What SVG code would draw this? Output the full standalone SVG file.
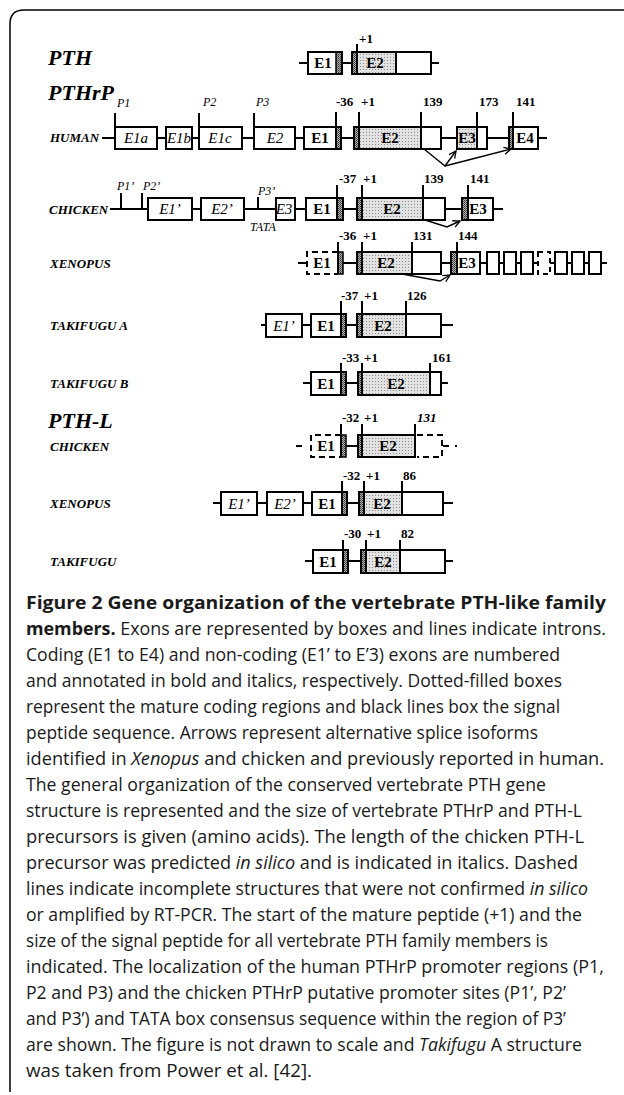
<svg xmlns="http://www.w3.org/2000/svg" width="624" height="1095" viewBox="0 0 624 1095">
<defs>
<pattern id="dots" width="3" height="3" patternUnits="userSpaceOnUse"><rect width="3" height="3" fill="#e2e2e2"/><rect width="1" height="1" fill="#8c8c8c"/></pattern>
<pattern id="hatch" width="2" height="2" patternUnits="userSpaceOnUse"><rect width="2" height="2" fill="#b0b0b0"/><rect width="1" height="1" fill="#333"/><rect x="1" y="1" width="1" height="1" fill="#555"/></pattern>
<marker id="arr" markerWidth="10" markerHeight="10" refX="8" refY="4" orient="auto" markerUnits="userSpaceOnUse"><path d="M1,0.5 L8,4 L1,7.5" fill="none" stroke="#000" stroke-width="1.3"/></marker>
</defs>
<style>
.ln{stroke:#000;stroke-width:2;fill:none}
.bx{fill:#fff;stroke:#000;stroke-width:2}
.nf{fill:none;stroke:#000;stroke-width:2}
.dsh{fill:none;stroke:#000;stroke-width:2;stroke-dasharray:6 4}
.dt{fill:url(#dots)}
.ht{fill:url(#hatch);stroke:#000;stroke-width:1.5}
.tk{stroke:#000;stroke-width:2}
.ar{stroke:#000;stroke-width:1.4;fill:none;marker-end:url(#arr)}
text{font-family:"Liberation Serif","Times New Roman",serif;fill:#000}
.ttl{font-size:22px;font-weight:bold;font-style:italic}
.sp{font-size:13px;font-weight:bold;font-style:italic}
.eb{font-size:15px;font-weight:bold;text-anchor:middle}
.ei{font-size:15px;font-style:italic;text-anchor:middle}
.nm{font-size:13px;font-weight:bold}
.pr{font-size:12px;font-style:italic}
.cap{font-family:"Open Sans","Noto Sans",sans-serif;font-size:17.5px;fill:#1a1a1a}
.b{font-weight:bold}
.i{font-style:italic}
</style>

<path d="M10,1092 V24 Q10,10 24,10 H624" fill="none" stroke="#000" stroke-width="1.5"/>

<g id="connectors">
<line class="ln" x1="299" y1="63" x2="439" y2="63"/>
<line class="ln" x1="102" y1="138" x2="547" y2="138"/>
<line class="ln" x1="110" y1="209" x2="503" y2="209"/>
<line class="ln" x1="298" y1="263" x2="607" y2="263"/>
<line class="ln" x1="261" y1="325" x2="453" y2="325"/>
<line class="ln" x1="303" y1="383" x2="448" y2="383"/>
<line class="ln" x1="346" y1="446" x2="358" y2="446"/>
<line class="dsh" x1="296" y1="446" x2="306" y2="446"/>
<line class="ln" x1="443" y1="446" x2="449" y2="446"/>
<rect x="455" y="445" width="2" height="2" fill="#000"/>
<line class="ln" x1="213" y1="503" x2="453" y2="503"/>
<line class="ln" x1="305" y1="561" x2="453" y2="561"/>
<polyline class="ar" points="424,149 445,166 456,151"/>
<polyline class="ar" points="445,166 511,149"/>
<polyline class="ar" points="425,220 447,227 460,221"/>
<polyline class="ar" points="402,274 440,281 450,275"/>
</g>

<g id="titles">
<text class="ttl" x="48" y="65">PTH</text>
<text class="ttl" x="48" y="100">PTHrP</text>
<text class="ttl" x="48" y="428">PTH-L</text>
</g>

<g id="pth">
<rect class="bx" x="308" y="52" width="34" height="22"/>
<rect class="ht" x="336" y="52" width="6" height="22"/>
<rect class="nf" x="308" y="52" width="34" height="22"/>
<text class="eb" x="323" y="68">E1</text>
<rect class="bx" x="352" y="52" width="79" height="22"/>
<rect class="ht" x="352" y="52" width="5" height="22"/>
<rect class="dt" x="357" y="53" width="39" height="20"/>
<line class="tk" x1="396" y1="52" x2="396" y2="74"/>
<rect class="nf" x="352" y="52" width="79" height="22"/>
<text class="eb" x="375" y="68">E2</text>
<line class="tk" x1="357" y1="44" x2="357" y2="74"/>
<text class="nm" x="359" y="43">+1</text>
</g>

<g id="human">
<text class="sp" x="50" y="142">HUMAN</text>
<rect class="bx" x="115" y="127" width="42" height="22"/><text class="ei" x="136" y="143">E1a</text>
<rect class="bx" x="166" y="127" width="26" height="22"/><text class="ei" x="179" y="143">E1b</text>
<rect class="bx" x="199" y="127" width="43" height="22"/><text class="ei" x="220" y="143">E1c</text>
<rect class="bx" x="254" y="127" width="41" height="22"/><text class="ei" x="275" y="143">E2</text>
<rect class="bx" x="304" y="127" width="37" height="22"/>
<rect class="ht" x="336" y="127" width="5" height="22"/>
<rect class="nf" x="304" y="127" width="37" height="22"/>
<text class="eb" x="320" y="143">E1</text>
<rect class="bx" x="354" y="127" width="87" height="22"/>
<rect class="ht" x="354" y="127" width="5" height="22"/>
<rect class="dt" x="359" y="128" width="62" height="20"/>
<rect class="nf" x="354" y="127" width="87" height="22"/>
<text class="eb" x="390" y="143">E2</text>
<rect class="bx" x="457" y="127" width="30" height="22"/>
<rect class="dt" x="458" y="128" width="19" height="20"/>
<rect class="nf" x="457" y="127" width="30" height="22"/>
<text class="eb" x="467" y="143">E3</text>
<rect class="bx" x="509" y="127" width="29" height="22"/>
<rect class="ht" x="509" y="127" width="4" height="22"/>
<rect class="nf" x="509" y="127" width="29" height="22"/>
<text class="eb" x="525" y="143">E4</text>
<line class="tk" x1="115" y1="113" x2="115" y2="127"/>
<line class="tk" x1="199" y1="113" x2="199" y2="127"/>
<line class="tk" x1="254" y1="113" x2="254" y2="127"/>
<line class="tk" x1="336" y1="112" x2="336" y2="149"/>
<line class="tk" x1="359" y1="112" x2="359" y2="149"/>
<line class="tk" x1="421" y1="112" x2="421" y2="149"/>
<line class="tk" x1="477" y1="112" x2="477" y2="149"/>
<line class="tk" x1="513" y1="112" x2="513" y2="149"/>
<text class="pr" x="117" y="107">P1</text>
<text class="pr" x="203" y="106">P2</text>
<text class="pr" x="256" y="106">P3</text>
<text class="nm" x="336" y="106">-36</text>
<text class="nm" x="361" y="106">+1</text>
<text class="nm" x="423" y="106">139</text>
<text class="nm" x="479" y="106">173</text>
<text class="nm" x="516" y="106">141</text>
</g>

<g id="chicken">
<text class="sp" x="49" y="214">CHICKEN</text>
<line class="tk" x1="121" y1="193" x2="121" y2="209"/>
<line class="tk" x1="142" y1="193" x2="142" y2="209"/>
<text class="pr" x="117" y="190">P1’</text>
<text class="pr" x="143" y="190">P2’</text>
<rect class="bx" x="148" y="198" width="44" height="22"/><text class="ei" x="170" y="214">E1’</text>
<rect class="bx" x="201" y="198" width="43" height="22"/><text class="ei" x="222" y="214">E2’</text>
<line class="tk" x1="258" y1="197" x2="258" y2="209"/>
<text class="pr" x="258" y="195">P3’</text>
<text class="pr" x="250" y="231">TATA</text>
<rect class="bx" x="276" y="198" width="19" height="22"/><text class="ei" x="284" y="214">E3</text>
<rect class="bx" x="306" y="198" width="37" height="22"/>
<rect class="ht" x="337" y="198" width="6" height="22"/>
<rect class="nf" x="306" y="198" width="37" height="22"/>
<text class="eb" x="322" y="214">E1</text>
<rect class="bx" x="357" y="198" width="88" height="22"/>
<rect class="ht" x="357" y="198" width="5" height="22"/>
<rect class="dt" x="362" y="199" width="61" height="20"/>
<rect class="nf" x="357" y="198" width="88" height="22"/>
<text class="eb" x="392" y="214">E2</text>
<rect class="bx" x="462" y="198" width="31" height="22"/>
<rect class="ht" x="462" y="198" width="6" height="22"/>
<rect class="nf" x="462" y="198" width="31" height="22"/>
<text class="eb" x="478" y="214">E3</text>
<line class="tk" x1="337" y1="185" x2="337" y2="220"/>
<line class="tk" x1="362" y1="185" x2="362" y2="220"/>
<line class="tk" x1="423" y1="185" x2="423" y2="220"/>
<line class="tk" x1="468" y1="185" x2="468" y2="220"/>
<text class="nm" x="339" y="183">-37</text>
<text class="nm" x="363" y="183">+1</text>
<text class="nm" x="424" y="183">139</text>
<text class="nm" x="470" y="183">141</text>
</g>

<g id="xenopus">
<text class="sp" x="50" y="268">XENOPUS</text>
<rect x="307" y="252" width="36" height="22" fill="#fff"/>
<path class="dsh" d="M338,252 H307 V274 H338"/>
<rect class="ht" x="338" y="252" width="5" height="22"/>
<text class="eb" x="322" y="268">E1</text>
<rect class="bx" x="357" y="252" width="84" height="22"/>
<rect class="ht" x="357" y="252" width="5" height="22"/>
<rect class="dt" x="362" y="253" width="50" height="20"/>
<rect class="nf" x="357" y="252" width="84" height="22"/>
<text class="eb" x="386" y="268">E2</text>
<rect class="bx" x="451" y="252" width="29" height="22"/>
<rect class="ht" x="451" y="252" width="6" height="22"/>
<rect class="nf" x="451" y="252" width="29" height="22"/>
<text class="eb" x="467" y="268">E3</text>
<rect class="bx" x="487" y="252" width="12" height="22"/>
<rect class="bx" x="504" y="252" width="12" height="22"/>
<rect class="bx" x="521" y="252" width="12" height="22"/>
<rect x="538" y="252" width="12" height="22" fill="#fff"/>
<rect class="dsh" x="538" y="252" width="12" height="22" style="stroke-dasharray:5 4"/>
<rect class="bx" x="555" y="252" width="12" height="22"/>
<rect class="bx" x="572" y="252" width="12" height="22"/>
<rect class="bx" x="589" y="252" width="12" height="22"/>
<line class="tk" x1="338" y1="242" x2="338" y2="274"/>
<line class="tk" x1="362" y1="242" x2="362" y2="274"/>
<line class="tk" x1="412" y1="242" x2="412" y2="274"/>
<line class="tk" x1="457" y1="242" x2="457" y2="274"/>
<text class="nm" x="339" y="240">-36</text>
<text class="nm" x="363" y="240">+1</text>
<text class="nm" x="413" y="240">131</text>
<text class="nm" x="458" y="240">144</text>
</g>

<g id="takifugu-a">
<text class="sp" x="50" y="330">TAKIFUGU A</text>
<rect class="bx" x="266" y="314" width="36" height="23"/><text class="ei" x="284" y="331">E1’</text>
<rect class="bx" x="311" y="314" width="35" height="23"/>
<rect class="ht" x="341" y="314" width="5" height="23"/>
<rect class="nf" x="311" y="314" width="35" height="23"/>
<text class="eb" x="326" y="331">E1</text>
<rect class="bx" x="357" y="314" width="84" height="23"/>
<rect class="ht" x="357" y="314" width="5" height="23"/>
<rect class="dt" x="362" y="315" width="44" height="21"/>
<rect class="nf" x="357" y="314" width="84" height="23"/>
<text class="eb" x="383" y="331">E2</text>
<line class="tk" x1="341" y1="301" x2="341" y2="337"/>
<line class="tk" x1="362" y1="301" x2="362" y2="337"/>
<line class="tk" x1="406" y1="301" x2="406" y2="337"/>
<text class="nm" x="341" y="300">-37</text>
<text class="nm" x="364" y="300">+1</text>
<text class="nm" x="407" y="300">126</text>
</g>

<g id="takifugu-b">
<text class="sp" x="50" y="388">TAKIFUGU B</text>
<rect class="bx" x="311" y="372" width="35" height="23"/>
<rect class="ht" x="341" y="372" width="5" height="23"/>
<rect class="nf" x="311" y="372" width="35" height="23"/>
<text class="eb" x="326" y="389">E1</text>
<rect class="bx" x="358" y="372" width="83" height="23"/>
<rect class="ht" x="358" y="372" width="4" height="23"/>
<rect class="dt" x="362" y="373" width="68" height="21"/>
<rect class="nf" x="358" y="372" width="83" height="23"/>
<text class="eb" x="396" y="389">E2</text>
<line class="tk" x1="341" y1="363" x2="341" y2="395"/>
<line class="tk" x1="362" y1="363" x2="362" y2="395"/>
<line class="tk" x1="430" y1="363" x2="430" y2="395"/>
<text class="nm" x="342" y="362">-33</text>
<text class="nm" x="364" y="362">+1</text>
<text class="nm" x="432" y="362">161</text>
</g>

<g id="pthl-chicken">
<text class="sp" x="50" y="451">CHICKEN</text>
<path class="dsh" d="M341,435 H311 V457 H341"/>
<rect class="ht" x="341" y="435" width="5" height="22"/>
<text class="eb" x="326" y="451">E1</text>
<rect class="bx" x="358" y="435" width="57" height="22"/>
<rect class="ht" x="358" y="435" width="4" height="22"/>
<rect class="dt" x="362" y="436" width="53" height="20"/>
<rect class="nf" x="358" y="435" width="57" height="22"/>
<text class="eb" x="388" y="451">E2</text>
<path class="dsh" d="M417,435 H442 V457 H417"/>
<line class="tk" x1="341" y1="424" x2="341" y2="457"/>
<line class="tk" x1="362" y1="424" x2="362" y2="457"/>
<line class="tk" x1="415" y1="424" x2="415" y2="457"/>
<text class="nm" x="342" y="422">-32</text>
<text class="nm" x="364" y="422">+1</text>
<text class="nm i" x="417" y="422">131</text>
</g>

<g id="pthl-xenopus">
<text class="sp" x="50" y="508">XENOPUS</text>
<rect class="bx" x="221" y="492" width="36" height="23"/><text class="ei" x="239" y="509">E1’</text>
<rect class="bx" x="267" y="492" width="36" height="23"/><text class="ei" x="285" y="509">E2’</text>
<rect class="bx" x="312" y="492" width="35" height="23"/>
<rect class="ht" x="342" y="492" width="5" height="23"/>
<rect class="nf" x="312" y="492" width="35" height="23"/>
<text class="eb" x="327" y="509">E1</text>
<rect class="bx" x="359" y="492" width="84" height="23"/>
<rect class="ht" x="359" y="492" width="5" height="23"/>
<rect class="dt" x="364" y="493" width="38" height="21"/>
<rect class="nf" x="359" y="492" width="84" height="23"/>
<text class="eb" x="382" y="509">E2</text>
<line class="tk" x1="342" y1="481" x2="342" y2="515"/>
<line class="tk" x1="364" y1="481" x2="364" y2="515"/>
<line class="tk" x1="402" y1="481" x2="402" y2="515"/>
<text class="nm" x="343" y="480">-32</text>
<text class="nm" x="366" y="480">+1</text>
<text class="nm" x="403" y="480">86</text>
</g>

<g id="pthl-takifugu">
<text class="sp" x="50" y="566">TAKIFUGU</text>
<rect class="bx" x="313" y="550" width="35" height="23"/>
<rect class="ht" x="343" y="550" width="5" height="23"/>
<rect class="nf" x="313" y="550" width="35" height="23"/>
<text class="eb" x="328" y="567">E1</text>
<rect class="bx" x="361" y="550" width="84" height="23"/>
<rect class="ht" x="361" y="550" width="5" height="23"/>
<rect class="dt" x="366" y="551" width="34" height="21"/>
<rect class="nf" x="361" y="550" width="84" height="23"/>
<text class="eb" x="383" y="567">E2</text>
<line class="tk" x1="343" y1="540" x2="343" y2="573"/>
<line class="tk" x1="366" y1="540" x2="366" y2="573"/>
<line class="tk" x1="400" y1="540" x2="400" y2="573"/>
<text class="nm" x="344" y="538">-30</text>
<text class="nm" x="367" y="538">+1</text>
<text class="nm" x="401" y="538">82</text>
</g>

<g id="caption">
<text class="cap" x="26" y="609" textLength="580" lengthAdjust="spacingAndGlyphs"><tspan class="b">Figure 2 Gene organization of the vertebrate PTH-like family</tspan></text>
<text class="cap" x="26" y="635" textLength="580" lengthAdjust="spacingAndGlyphs"><tspan class="b">members.</tspan> Exons are represented by boxes and lines indicate introns.</text>
<text class="cap" x="26" y="661" textLength="534" lengthAdjust="spacingAndGlyphs">Coding (E1 to E4) and non-coding (E1’ to E’3) exons are numbered</text>
<text class="cap" x="26" y="687" textLength="536" lengthAdjust="spacingAndGlyphs">and annotated in bold and italics, respectively. Dotted-filled boxes</text>
<text class="cap" x="26" y="713" textLength="534" lengthAdjust="spacingAndGlyphs">represent the mature coding regions and black lines box the signal</text>
<text class="cap" x="26" y="739" textLength="512" lengthAdjust="spacingAndGlyphs">peptide sequence. Arrows represent alternative splice isoforms</text>
<text class="cap" x="26" y="765" textLength="578" lengthAdjust="spacingAndGlyphs">identified in <tspan class="i">Xenopus</tspan> and chicken and previously reported in human.</text>
<text class="cap" x="26" y="791" textLength="520" lengthAdjust="spacingAndGlyphs">The general organization of the conserved vertebrate PTH gene</text>
<text class="cap" x="26" y="817" textLength="556" lengthAdjust="spacingAndGlyphs">structure is represented and the size of vertebrate PTHrP and PTH-L</text>
<text class="cap" x="26" y="843" textLength="558" lengthAdjust="spacingAndGlyphs">precursors is given (amino acids). The length of the chicken PTH-L</text>
<text class="cap" x="26" y="869" textLength="552" lengthAdjust="spacingAndGlyphs">precursor was predicted <tspan class="i">in silico</tspan> and is indicated in italics. Dashed</text>
<text class="cap" x="26" y="895" textLength="562" lengthAdjust="spacingAndGlyphs">lines indicate incomplete structures that were not confirmed <tspan class="i">in silico</tspan></text>
<text class="cap" x="26" y="921" textLength="556" lengthAdjust="spacingAndGlyphs">or amplified by RT-PCR. The start of the mature peptide (+1) and the</text>
<text class="cap" x="26" y="947" textLength="522" lengthAdjust="spacingAndGlyphs">size of the signal peptide for all vertebrate PTH family members is</text>
<text class="cap" x="26" y="973" textLength="578" lengthAdjust="spacingAndGlyphs">indicated. The localization of the human PTHrP promoter regions (P1,</text>
<text class="cap" x="26" y="999" textLength="540" lengthAdjust="spacingAndGlyphs">P2 and P3) and the chicken PTHrP putative promoter sites (P1’, P2’</text>
<text class="cap" x="26" y="1025" textLength="540" lengthAdjust="spacingAndGlyphs">and P3’) and TATA box consensus sequence within the region of P3’</text>
<text class="cap" x="26" y="1051" textLength="556" lengthAdjust="spacingAndGlyphs">are shown. The figure is not drawn to scale and <tspan class="i">Takifugu</tspan> A structure</text>
<text class="cap" x="26" y="1077" textLength="286" lengthAdjust="spacingAndGlyphs">was taken from Power et al. [42].</text>
</g>
</svg>
